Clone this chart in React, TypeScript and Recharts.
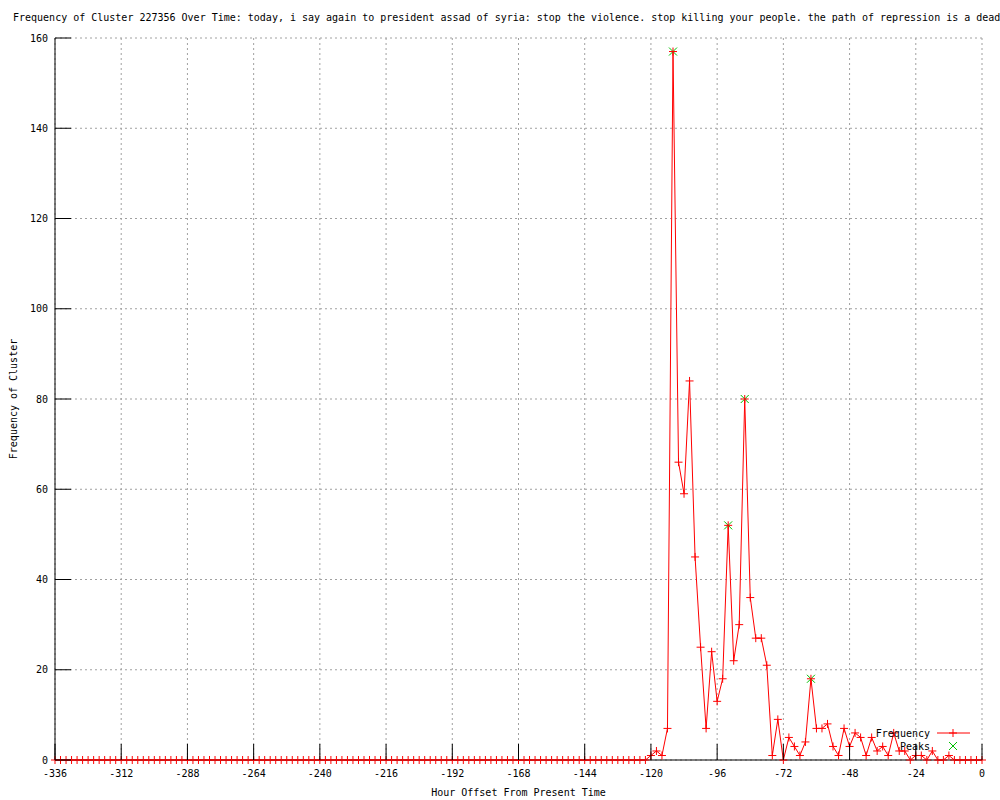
import {
  ComposedChart,
  Line,
  Scatter,
  XAxis,
  YAxis,
  CartesianGrid,
  Legend,
} from 'recharts';

const FONT = "'DejaVu Sans Mono', monospace";

const chartTitle =
  'Frequency of Cluster 227356 Over Time: today, i say again to president assad of syria: stop the violence. stop killing your people. the path of repression is a dead';
const xTitle = 'Hour Offset From Present Time';
const yTitle = 'Frequency of Cluster';

const xTicks = [-336, -312, -288, -264, -240, -216, -192, -168, -144, -120, -96, -72, -48, -24, 0];
const yTicks = [0, 20, 40, 60, 80, 100, 120, 140, 160];

// one sample every 2 hours, -336 .. 0
const hours = Array.from({ length: 169 }, (_, i) => -336 + 2 * i);

// hours -336 .. -124: nothing yet
const quietFreq = [
  0, 0, 0, 0, 0, 0, 0, 0, 0, 0,
  0, 0, 0, 0, 0, 0, 0, 0, 0, 0,
  0, 0, 0, 0, 0, 0, 0, 0, 0, 0,
  0, 0, 0, 0, 0, 0, 0, 0, 0, 0,
  0, 0, 0, 0, 0, 0, 0, 0, 0, 0,
  0, 0, 0, 0, 0, 0, 0, 0, 0, 0,
  0, 0, 0, 0, 0, 0, 0, 0, 0, 0,
  0, 0, 0, 0, 0, 0, 0, 0, 0, 0,
  0, 0, 0, 0, 0, 0, 0, 0, 0, 0,
  0, 0, 0, 0, 0, 0, 0, 0, 0, 0,
  0, 0, 0, 0, 0, 0, 0,
];

// hours -122 .. 0
const activeFreq = [
  0, 1, 2, 1, 7, 157, 66, 59, 84, 45, 25, 7,
  24, 13, 18, 52, 22, 30, 80, 36, 27, 27, 21, 1,
  9, 0, 5, 3, 1, 4, 18, 7, 7, 8, 3, 1,
  7, 3, 6, 5, 1, 5, 2, 3, 1, 6, 2, 2,
  0, 1, 1, 0, 2, 0, 0, 1, 0, 0, 0, 0,
  0, 0,
];

const peakHours = [-112, -92, -86, -62];
const peakFreq = [157, 52, 80, 18];

const allFreq = [...quietFreq, ...activeFreq];
const freqData = hours.map((hour, i) => ({ hour, freq: allFreq[i] }));
const peakData = peakHours.map((hour, i) => ({ hour, freq: peakFreq[i] }));

const TICK_LEN = 16;
const X_GAP = 17;
const Y_GAP = 7;

function BottomTick(props: any) {
  const { x, y, payload } = props;
  const axisY = y - X_GAP;
  return (
    <g>
      <line x1={x} y1={axisY} x2={x} y2={axisY - TICK_LEN} stroke="#000" />
      <text x={x} y={y} textAnchor="middle" fontFamily={FONT} fontSize={10} fill="#000">
        {payload.value}
      </text>
    </g>
  );
}

function TopTick(props: any) {
  const { x, y } = props;
  return <line x1={x} y1={y} x2={x} y2={y + TICK_LEN} stroke="#000" />;
}

function LeftTick(props: any) {
  const { x, y, payload } = props;
  const axisX = x + Y_GAP;
  return (
    <g>
      <line x1={axisX} y1={y} x2={axisX + TICK_LEN} y2={y} stroke="#000" />
      <text x={x} y={y} dy="0.36em" textAnchor="end" fontFamily={FONT} fontSize={10} fill="#000">
        {payload.value}
      </text>
    </g>
  );
}

function RightTick(props: any) {
  const { x, y } = props;
  return <line x1={x} y1={y} x2={x - TICK_LEN} y2={y} stroke="#000" />;
}

// gnuplot style "+" point
const crossPath = (cx: number, cy: number) =>
  `M${cx - 4},${cy}h8M${cx},${cy - 4}v8`;
// gnuplot style "x" point
const xPath = (cx: number, cy: number) =>
  `M${cx - 4},${cy - 4}l8,8M${cx - 4},${cy + 4}l8,-8`;

function CrossDot(props: any) {
  const { cx, cy, index } = props;
  if (cx == null || cy == null) return null;
  return <path key={`c-${index}`} d={crossPath(cx, cy)} stroke="#ff0000" strokeWidth={1} fill="none" />;
}

function PeakShape(props: any) {
  const { cx, cy } = props;
  return <path d={xPath(cx, cy)} stroke="#00c000" strokeWidth={1} fill="none" />;
}

function KeyBox({ payload }: any) {
  // frequency line first, peaks below it
  const items = [...(payload || [])].sort(
    (a: any, b: any) => (a.type === 'line' ? 0 : 1) - (b.type === 'line' ? 0 : 1)
  );
  return (
    <svg width={120} height={28} style={{ display: 'block' }}>
      {items.map((p: any, i: number) => {
        const y = 7 + 13 * i;
        return (
          <g key={p.value}>
            <text x={70} y={y} dy="0.36em" textAnchor="end" fontFamily={FONT} fontSize={10} fill="#000">
              {p.value}
            </text>
            {p.type === 'line' ? (
              <g>
                <line x1={77} y1={y} x2={110} y2={y} stroke="#ff0000" />
                <path d={crossPath(93, y)} stroke="#ff0000" fill="none" />
              </g>
            ) : (
              <path d={xPath(93, y)} stroke="#00c000" fill="none" />
            )}
          </g>
        );
      })}
    </svg>
  );
}

export default function App() {
  return (
    <div style={{ position: 'absolute', left: 0, top: 0, width: 1000, height: 800, background: '#fff' }}>
      <div
        style={{
          position: 'absolute',
          left: 13,
          top: 12,
          fontFamily: FONT,
          fontSize: 10,
          lineHeight: '12px',
          whiteSpace: 'nowrap',
          color: '#000',
        }}
      >
        {chartTitle}
      </div>
      <ComposedChart
        width={1000}
        height={800}
        data={freqData}
        margin={{ top: 38, right: 18, bottom: 0, left: 0 }}
      >
        <CartesianGrid stroke="#a0a0a0" strokeDasharray="2 3" />
        <XAxis
          dataKey="hour"
          type="number"
          domain={[-336, 0]}
          ticks={xTicks}
          height={40}
          tickSize={0}
          tickMargin={X_GAP}
          axisLine={{ stroke: '#000' }}
          tick={<BottomTick />}
          interval={0}
          label={{ value: xTitle, position: 'insideBottom', offset: 4, fill: '#000', fontSize: 10, fontFamily: FONT }}
        />
        <XAxis
          xAxisId="top"
          orientation="top"
          type="number"
          domain={[-336, 0]}
          ticks={xTicks}
          height={0}
          tickSize={0}
          tickMargin={0}
          allowDataOverflow
          axisLine={{ stroke: '#000' }}
          tick={<TopTick />}
          interval={0}
        />
        <YAxis
          type="number"
          domain={[0, 160]}
          ticks={yTicks}
          width={55}
          tickSize={0}
          tickMargin={Y_GAP}
          axisLine={{ stroke: '#000' }}
          tick={<LeftTick />}
          interval={0}
          label={{
            value: yTitle,
            angle: -90,
            position: 'insideLeft',
            offset: 13,
            fill: '#000',
            fontSize: 10,
            fontFamily: FONT,
            style: { textAnchor: 'middle' },
          }}
        />
        <YAxis
          yAxisId="right"
          orientation="right"
          type="number"
          domain={[0, 160]}
          ticks={yTicks}
          width={0}
          tickSize={0}
          tickMargin={0}
          allowDataOverflow
          axisLine={{ stroke: '#000' }}
          tick={<RightTick />}
          interval={0}
        />
        <Legend
          layout="vertical"
          align="center"
          verticalAlign="middle"
          wrapperStyle={{ left: 860, top: 726, width: 120 }}
          content={<KeyBox />}
        />
        <Scatter
          name="Peaks"
          data={peakData}
          dataKey="freq"
          shape={<PeakShape />}
          legendType="cross"
          isAnimationActive={false}
        />
        <Line
          name="Frequency"
          dataKey="freq"
          type="linear"
          stroke="#ff0000"
          strokeWidth={1}
          dot={<CrossDot />}
          activeDot={false}
          legendType="line"
          isAnimationActive={false}
        />
      </ComposedChart>
    </div>
  );
}
